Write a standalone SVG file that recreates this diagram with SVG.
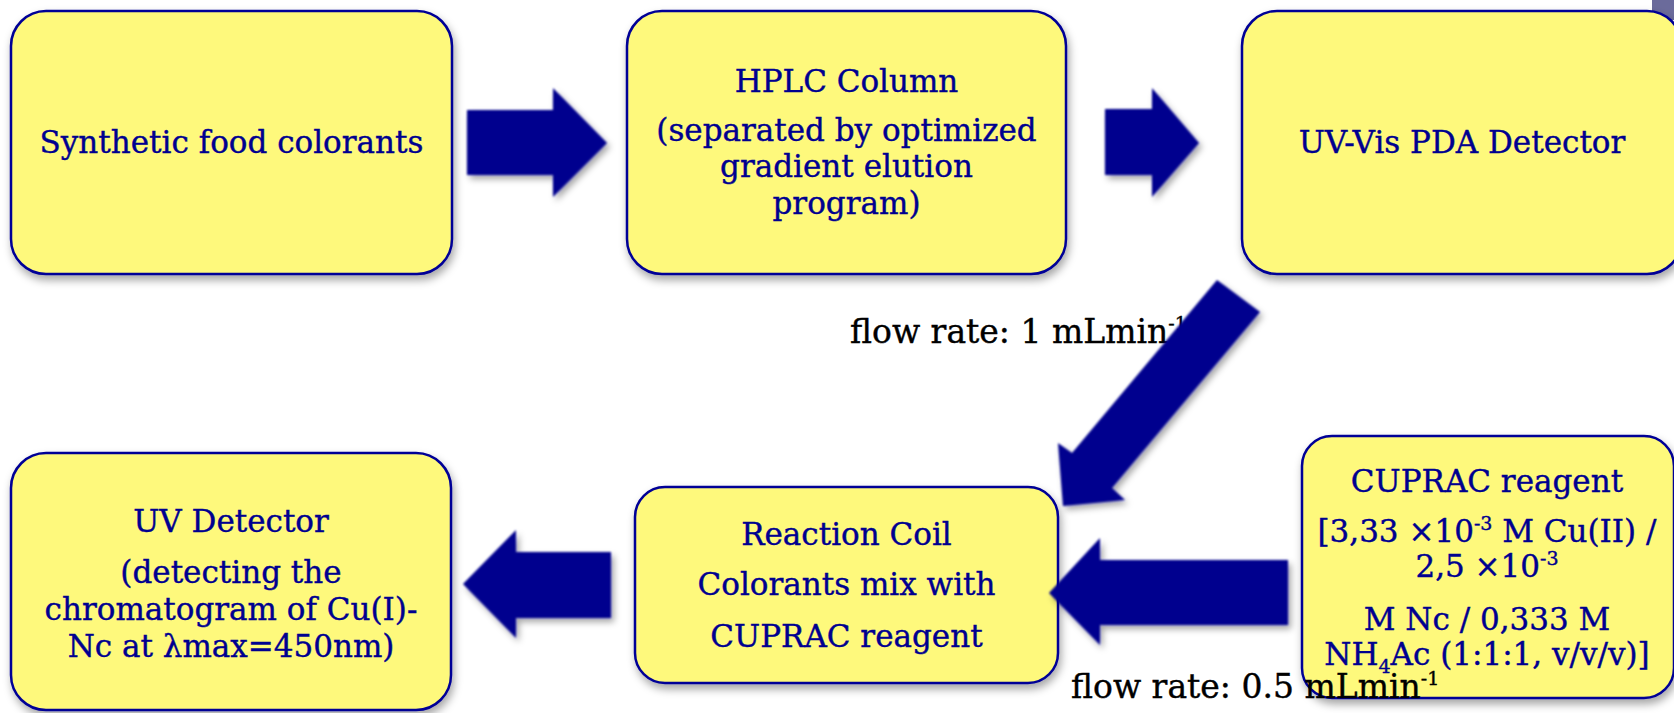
<svg xmlns="http://www.w3.org/2000/svg" width="1674" height="713" viewBox="0 0 1674 713">
<style>
.box{fill:#FEF97B;stroke:#000096;stroke-width:2.5}
.t{fill:#000090;stroke:#000090;stroke-width:0.4;font-family:"DejaVu Serif",serif;font-size:31px;text-anchor:middle}
.lbl{fill:#000000;stroke:#000000;stroke-width:0.4;font-family:"DejaVu Serif",serif;font-size:33px}
.arr{fill:#00008E}
.sup{font-size:19px}
</style>
<defs>
<filter id="sh" x="-10%" y="-10%" width="125%" height="130%">
<feDropShadow dx="2" dy="5" stdDeviation="4" flood-color="#000000" flood-opacity="0.35"/>
</filter>
<filter id="ash" x="-20%" y="-20%" width="150%" height="150%">
<feGaussianBlur in="SourceGraphic" stdDeviation="0.8" result="b"/>
<feDropShadow in="b" dx="3" dy="4" stdDeviation="3" flood-color="#000000" flood-opacity="0.35"/>
</filter>
</defs>
<rect x="1652" y="0" width="22" height="20" fill="#6B6B9B"/>
<g id="node-synthetic">
<rect class="box" x="11" y="11" width="441" height="263" rx="35" filter="url(#sh)"/>
<text class="t" x="231.5" y="153">Synthetic food colorants</text>
</g>
<g id="node-hplc">
<rect class="box" x="627" y="11" width="439" height="263" rx="35" filter="url(#sh)"/>
<text class="t" x="846.5" y="92">HPLC Column</text>
<text class="t" x="846.5" y="141">(separated by optimized</text>
<text class="t" x="846.5" y="177">gradient elution</text>
<text class="t" x="846.5" y="214">program)</text>
</g>
<g id="node-uvvis">
<rect class="box" x="1242" y="11" width="440" height="263" rx="35" filter="url(#sh)"/>
<text class="t" x="1462" y="153">UV-Vis PDA Detector</text>
</g>
<g id="node-uvdetector">
<rect class="box" x="11" y="453" width="440" height="257" rx="35" filter="url(#sh)"/>
<text class="t" x="231" y="532">UV Detector</text>
<text class="t" x="231" y="583">(detecting the</text>
<text class="t" x="231" y="620">chromatogram of Cu(I)-</text>
<text class="t" x="231" y="657">Nc at λmax=450nm)</text>
</g>
<g id="node-coil">
<rect class="box" x="635" y="487" width="423" height="196" rx="30" filter="url(#sh)"/>
<text class="t" x="846.5" y="545">Reaction Coil</text>
<text class="t" x="846.5" y="595">Colorants mix with</text>
<text class="t" x="846.5" y="647">CUPRAC reagent</text>
</g>
<g id="node-cuprac">
<rect class="box" x="1302" y="436" width="372" height="262" rx="30" filter="url(#sh)"/>
<text class="t" x="1487" y="492">CUPRAC reagent</text>
<text class="t" x="1487" y="542">[3,33 ×10<tspan class="sup" dy="-12">-3</tspan><tspan dy="12"> M Cu(II) /</tspan></text>
<text class="t" x="1487" y="577">2,5 ×10<tspan class="sup" dy="-12">-3</tspan></text>
<text class="t" x="1487" y="630">M Nc / 0,333 M</text>
<text class="t" x="1487" y="665">NH<tspan class="sup" dy="8">4</tspan><tspan dy="-8">Ac (1:1:1, v/v/v)]</tspan></text>
</g>
<g id="connectors">
<text class="lbl" x="850" y="343">flow rate: 1 mLmin<tspan class="sup" dy="-13">-1</tspan></text>
<text class="lbl" x="1071" y="698">flow rate: 0.5 mLmin<tspan class="sup" dy="-13">-1</tspan></text>
<g filter="url(#ash)">
<polygon class="arr" points="467,110 553,110 553,88 607,143 553,197 553,175 467,175"/>
<polygon class="arr" points="1105,109 1152,109 1152,88 1199,143 1152,197 1152,175 1105,175"/>
<polygon class="arr" points="1217,280 1260,312 1112,488 1125,500 1063,506 1058,443 1072,453"/>
<polygon class="arr" points="1288,560 1100,560 1100,538 1049,593 1100,645 1100,625 1288,625"/>
<polygon class="arr" points="611,552 516,552 516,530 463,584 516,638 516,618 611,618"/>
</g>
</g>
</svg>
